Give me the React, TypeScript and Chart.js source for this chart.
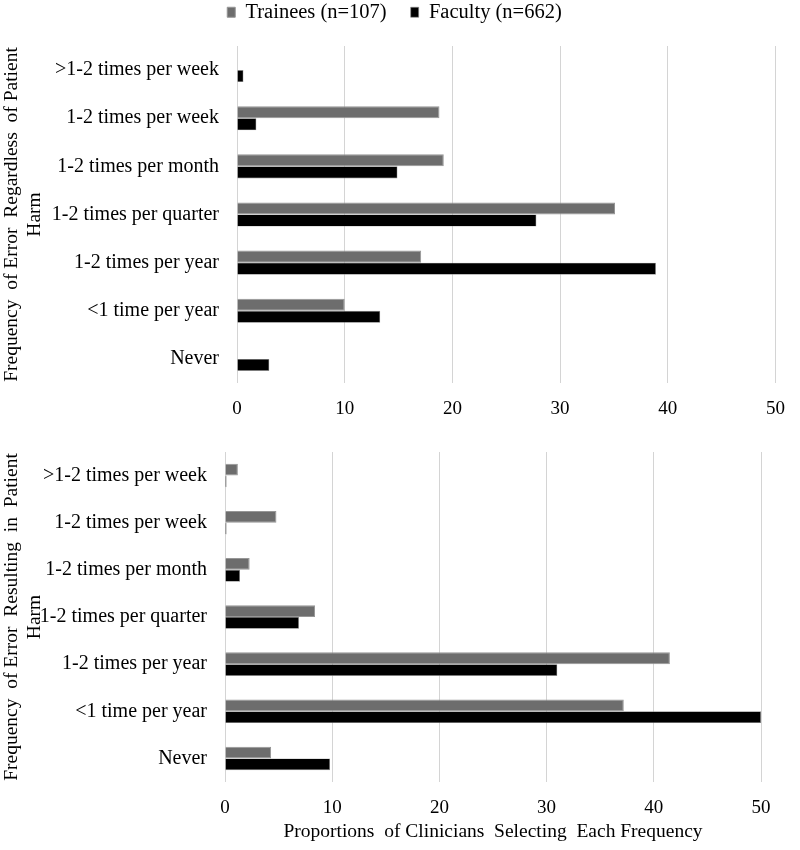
import React, { useEffect, useRef } from "react";
import { Chart, registerables } from "chart.js";

Chart.register(...registerables);

const categories = [
  ">1-2 times per week",
  "1-2 times per week",
  "1-2 times per month",
  "1-2 times per quarter",
  "1-2 times per year",
  "<1 time per year",
  "Never",
];
const seriesNames = ["Trainees (n=107)", "Faculty (n=662)"];
const traineesRegardless = [0, 18.8, 19.2, 35.1, 17.1, 10.0, 0];
const facultyRegardless = [0.6, 1.8, 14.9, 27.8, 38.9, 13.3, 3.0];
const traineesHarm = [1.2, 4.8, 2.3, 8.4, 41.5, 37.2, 4.3];
const facultyHarm = [0.15, 0.15, 1.4, 6.9, 31.0, 50.0, 9.8];
const xMin = 0;
const xMax = 50;
const xStep = 10;
const topYTitle = ["Frequency  of Error  Regardless  of Patient", "Harm"];
const bottomYTitle = ["Frequency  of Error  Resulting  in  Patient", "Harm"];
const xTitle = "Proportions  of Clinicians  Selecting  Each Frequency";

const FONT = "'Liberation Serif', 'Times New Roman', serif";
const GRAY = "#6d6d6d";
const BLACK = "#000000";
const GRID = "#d4d4d4";

type Opts = {
  trainees: number[];
  faculty: number[];
  yTitle: string[];
  showLegend: boolean;
  showXTitle: boolean;
  yWidth: number;
  xHeight: number;
  padTop: number;
  padRight: number;
  legendExtra: number;
};

function makeConfig(o: Opts): any {
  const legendMargin = {
    id: "legendMargin",
    afterInit(chart: any) {
      if (!chart.legend) return;
      const orig = chart.legend.fit;
      chart.legend.fit = function fit() {
        orig.bind(chart.legend)();
        this.height += o.legendExtra;
      };
    },
  };
  return {
    type: "bar",
    data: {
      labels: categories,
      datasets: [
        {
          label: seriesNames[0],
          data: o.trainees,
          backgroundColor: GRAY,
          borderColor: "#969696",
          borderWidth: 1,
          categoryPercentage: 0.5,
          barPercentage: 1.0,
        },
        {
          label: seriesNames[1],
          data: o.faculty,
          backgroundColor: BLACK,
          borderColor: "#8a8a8a",
          borderWidth: 0.6,
          categoryPercentage: 0.5,
          barPercentage: 1.0,
        },
      ],
    },
    options: {
      indexAxis: "y",
      responsive: false,
      animation: false,
      maintainAspectRatio: false,
      layout: { padding: { top: o.padTop, right: o.padRight, left: 0, bottom: 0 } },
      plugins: {
        legend: {
          display: o.showLegend,
          position: "top",
          align: "center",
          labels: {
            boxWidth: 8,
            boxHeight: 10,
            padding: 24,
            color: "#000",
            font: { family: FONT, size: 20.5 },
          },
        },
        tooltip: { enabled: false },
      },
      scales: {
        x: {
          type: "linear",
          min: xMin,
          max: xMax,
          ticks: {
            stepSize: xStep,
            color: "#000",
            padding: 15,
            font: { family: FONT, size: 19 },
          },
          grid: { color: GRID, lineWidth: 1, drawTicks: false },
          border: { display: false },
          title: {
            display: o.showXTitle,
            text: xTitle,
            color: "#000",
            font: { family: FONT, size: 19.5 },
            padding: { top: 0, bottom: 6 },
          },
          afterFit(scale: any) {
            scale.height = o.xHeight;
          },
        },
        y: {
          type: "category",
          ticks: {
            color: "#000",
            padding: 18,
            autoSkip: false,
            font: { family: FONT, size: 20 },
          },
          grid: { display: false, drawTicks: false },
          border: { display: false },
          title: {
            display: true,
            text: o.yTitle,
            color: "#000",
            font: { family: FONT, size: 19.5 },
            padding: { top: 0, bottom: 0 },
          },
          afterFit(scale: any) {
            scale.width = o.yWidth;
          },
        },
      },
    },
    plugins: o.showLegend ? [legendMargin] : [],
  };
}

function BarChart(props: { opts: Opts; width: number; height: number }) {
  const ref = useRef<HTMLCanvasElement | null>(null);
  useEffect(() => {
    if (!ref.current) return;
    const chart = new Chart(ref.current, makeConfig(props.opts));
    return () => chart.destroy();
  }, []);
  return (
    <canvas
      ref={ref}
      width={props.width}
      height={props.height}
      style={{ display: "block", width: props.width, height: props.height }}
    />
  );
}

export default function App() {
  useEffect(() => {
    document.body.style.margin = "0";
    document.body.style.background = "#ffffff";
  }, []);
  const topOpts: Opts = {
    trainees: traineesRegardless,
    faculty: facultyRegardless,
    yTitle: topYTitle,
    showLegend: true,
    showXTitle: false,
    yWidth: 237,
    xHeight: 37,
    padTop: -22,
    padRight: 11,
    legendExtra: 13.5,
  };
  const bottomOpts: Opts = {
    trainees: traineesHarm,
    faculty: facultyHarm,
    yTitle: bottomYTitle,
    showLegend: false,
    showXTitle: true,
    yWidth: 225,
    xHeight: 68,
    padTop: 32,
    padRight: 39,
    legendExtra: 0,
  };
  return (
    <div style={{ width: 800, height: 850, background: "#fff", position: "relative" }}>
      <div style={{ position: "absolute", left: 0, top: 0 }}>
        <BarChart opts={topOpts} width={800} height={420} />
      </div>
      <div style={{ position: "absolute", left: 0, top: 420 }}>
        <BarChart opts={bottomOpts} width={800} height={430} />
      </div>
    </div>
  );
}
